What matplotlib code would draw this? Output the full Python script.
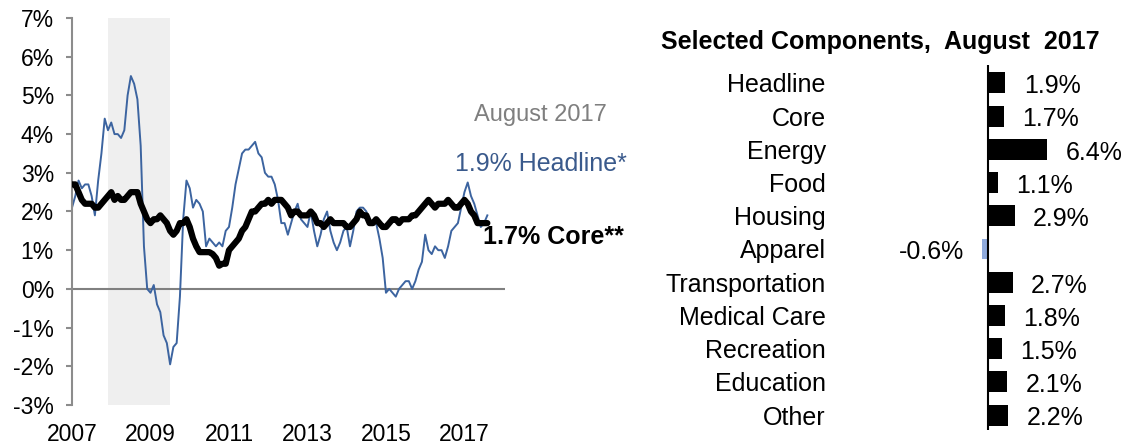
import numpy as np
import matplotlib.pyplot as plt

plt.rcParams['font.family'] = ['Liberation Sans', 'DejaVu Sans']

# monthly year-over-year change, Jan 2007 - Aug 2017 (%)
headline = [
    2.1, 2.4, 2.8, 2.6, 2.7, 2.7, 2.4, 1.9, 2.8, 3.5, 4.4, 4.1,   # 2007
    4.3, 4.0, 4.0, 3.9, 4.1, 5.0, 5.5, 5.3, 4.9, 3.7, 1.1, 0.0,   # 2008
    -0.1, 0.1, -0.4, -0.6, -1.2, -1.4, -1.95, -1.5, -1.4, -0.2, 1.8, 2.8,  # 2009
    2.6, 2.1, 2.3, 2.2, 2.0, 1.1, 1.3, 1.2, 1.1, 1.2, 1.1, 1.5,   # 2010
    1.6, 2.1, 2.7, 3.1, 3.5, 3.6, 3.6, 3.7, 3.8, 3.5, 3.4, 3.0,   # 2011
    2.9, 2.9, 2.7, 2.3, 1.7, 1.7, 1.4, 1.7, 2.0, 2.2, 1.8, 1.7,   # 2012
    1.6, 2.0, 1.5, 1.1, 1.4, 1.8, 2.0, 1.5, 1.2, 1.0, 1.2, 1.5,   # 2013
    1.6, 1.1, 1.5, 2.0, 2.1, 2.1, 2.0, 1.7, 1.7, 1.7, 1.3, 0.8,   # 2014
    -0.1, 0.0, -0.1, -0.2, 0.0, 0.1, 0.2, 0.2, 0.0, 0.2, 0.5, 0.7,  # 2015
    1.4, 1.0, 0.9, 1.1, 1.0, 1.0, 0.8, 1.1, 1.5, 1.6, 1.7, 2.1,   # 2016
    2.5, 2.75, 2.4, 2.2, 1.9, 1.6, 1.7, 1.9,                       # 2017
]
core = [
    2.7, 2.7, 2.5, 2.3, 2.2, 2.2, 2.2, 2.1, 2.1, 2.2, 2.3, 2.4,
    2.5, 2.3, 2.4, 2.3, 2.3, 2.4, 2.5, 2.5, 2.5, 2.2, 2.0, 1.8,
    1.7, 1.8, 1.8, 1.9, 1.8, 1.7, 1.5, 1.4, 1.5, 1.7, 1.7, 1.8,
    1.6, 1.3, 1.1, 0.95, 0.95, 0.95, 0.95, 0.9, 0.8, 0.6, 0.65, 0.65,
    1.0, 1.1, 1.2, 1.3, 1.5, 1.6, 1.8, 2.0, 2.0, 2.1, 2.2, 2.2,
    2.3, 2.2, 2.3, 2.3, 2.3, 2.2, 2.1, 1.9, 2.0, 2.0, 1.9, 1.9,
    1.9, 2.0, 1.9, 1.7, 1.7, 1.6, 1.7, 1.8, 1.7, 1.7, 1.7, 1.7,
    1.6, 1.6, 1.7, 1.8, 2.0, 1.9, 1.9, 1.7, 1.7, 1.8, 1.7, 1.6,
    1.6, 1.7, 1.8, 1.8, 1.7, 1.8, 1.8, 1.8, 1.9, 1.9, 2.0, 2.1,
    2.2, 2.3, 2.2, 2.1, 2.2, 2.2, 2.2, 2.3, 2.2, 2.1, 2.1, 2.2,
    2.3, 2.2, 2.0, 1.9, 1.7, 1.7, 1.7, 1.7,
]
dates = 2007 + np.arange(len(headline)) / 12.0
recession = (2007 + 11 / 12, 2009.5)
year_ticks = [2007, 2009, 2011, 2013, 2015, 2017]

components = ['Headline', 'Core', 'Energy', 'Food', 'Housing', 'Apparel',
              'Transportation', 'Medical Care', 'Recreation', 'Education', 'Other']
comp_values = [1.9, 1.7, 6.4, 1.1, 2.9, -0.6, 2.7, 1.8, 1.5, 2.1, 2.2]

W, H = 1126, 446
fig = plt.figure(figsize=(W / 100, H / 100), dpi=100)

# ---- left: line chart
ax = fig.add_axes([72 / W, 41 / H, 433 / W, 387 / H])
ax.axvspan(recession[0], recession[1], color='#EFEFEF', lw=0, zorder=0)
ax.axhline(0, color='#808080', lw=1.5, zorder=1)
ax.plot(dates, headline, color='#3C64A0', lw=1.4, zorder=2)
ax.plot(dates, core, color='black', lw=4.5, solid_capstyle='round', zorder=3)
ax.set_xlim(2007, 2007 + 132.4 / 12)
ax.set_ylim(-3, 7)
ax.set_yticks(range(-3, 8))
ax.set_yticklabels([f'{v}%' for v in range(-3, 8)])
ax.set_xticks(year_ticks)
ax.set_xticklabels([str(y) for y in year_ticks])
for s in ['top', 'right', 'bottom']:
    ax.spines[s].set_visible(False)
ax.spines['left'].set_color('#8C8C8C')
ax.spines['left'].set_linewidth(1.5)
ax.tick_params(axis='y', length=4, width=1.5, color='#8C8C8C', pad=9, labelsize=16.5)
ax.tick_params(axis='x', length=0, pad=13, labelsize=16.5)

fig.text(540 / W, 1 - 115 / H, 'August 2017', color='#7F7F7F', fontsize=17,
         ha='center', va='center')
fig.text(541 / W, 1 - 164 / H, '1.9% Headline*', color='#3A5A8C', fontsize=18,
         ha='center', va='center')
fig.text(553 / W, 1 - 237 / H, '1.7% Core**', color='black', fontsize=18,
         fontweight='bold', ha='center', va='center')

# ---- right: components
ax2 = fig.add_axes([830 / W, 16 / H, 296 / W, 365 / H])
ypos = np.arange(len(components))
colors = ['#8FAADC' if v < 0 else 'black' for v in comp_values]
ax2.barh(ypos, comp_values, height=0.63, color=colors)
ax2.axvline(0, color='black', lw=1.5)
ax2.set_xlim((830 - 988) / 9.2, (1126 - 988) / 9.2)
ax2.set_ylim(10.45, -0.54)
ax2.set_yticks(ypos)
ax2.set_yticklabels(components)
ax2.set_xticks([])
for s in ax2.spines.values():
    s.set_visible(False)
ax2.tick_params(axis='y', length=0, pad=3, labelsize=18)
for y, v in zip(ypos, comp_values):
    if v >= 0:
        ax2.text(v + 2.0, y + 0.1, f'{v:.1f}%', fontsize=18, ha='left', va='center')
    else:
        ax2.text(v - 2.0, y + 0.1, f'{v:.1f}%', fontsize=18, ha='right', va='center')

fig.text(880 / W, 1 - 42 / H, 'Selected Components,  August  2017',
         fontsize=18, fontweight='bold', ha='center', va='center')

fig.savefig('out.png', dpi=100)
